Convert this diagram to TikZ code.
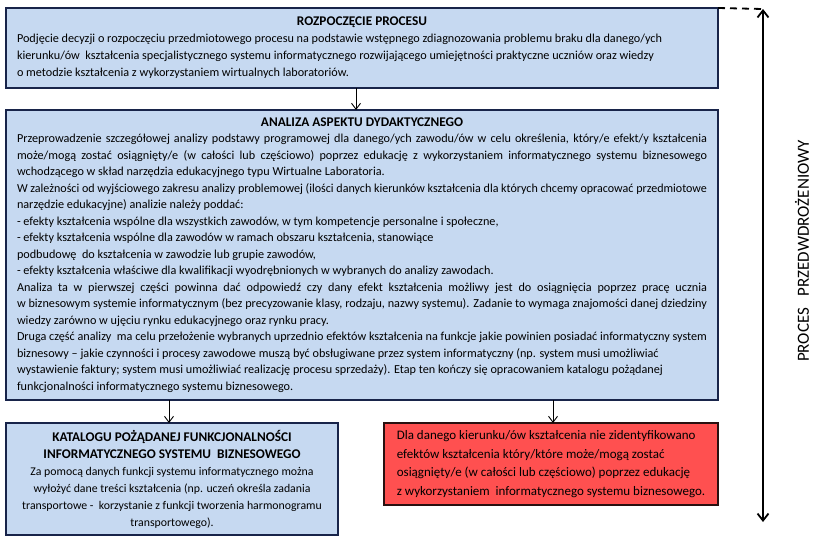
\documentclass[tikz,border=0pt]{standalone}
\usepackage{fontspec}
\setmainfont{Carlito}
\usetikzlibrary{arrows.meta}
\definecolor{boxblue}{HTML}{C6D9F1}
\definecolor{boxedge}{HTML}{18244A}
\definecolor{boxred}{HTML}{FF5050}
\definecolor{rededge}{HTML}{2A1010}
\newcommand\jl[1]{\setbox0\hbox{#1}\ifdim\wd0>\hsize\hbox to\hsize{\resizebox{\hsize}{\height}{#1}}\else\hbox to\hsize{#1}\fi}
\newcommand\rl[1]{\setbox0\hbox{#1}\ifdim\wd0>\hsize\hbox to\hsize{\resizebox{\hsize}{\height}{#1}}\else\hbox{#1}\fi}
\newcommand\cl[1]{\hbox to\hsize{\hfil#1\hfil}}
\newcommand\ttl[1]{\textbf{\fontsize{13.3pt}{17pt}\selectfont #1}}
\begin{document}
\begin{tikzpicture}[x=1pt,y=-1pt,
  bluebox/.style={draw=boxedge, line width=1.2pt, fill=boxblue, anchor=north west, inner sep=0pt, outer sep=0pt},
  redbox/.style={draw=rededge, line width=1.2pt, fill=boxred, anchor=north west, inner sep=0pt, outer sep=0pt},
  flow/.style={draw=black, line width=0.9pt, -{Straight Barb[length=6pt,width=9pt,line width=0.9pt]}},
  bigarrow/.style={draw=black, line width=1.8pt, {Straight Barb[length=7pt,width=11pt,line width=1.8pt]}-{Straight Barb[length=7pt,width=11pt,line width=1.8pt]}},
  dashlink/.style={draw=black, line width=1.8pt, dash pattern=on 7pt off 5pt}
]
\useasboundingbox (0,0) rectangle (820,544);

% ROZPOCZECIE PROCESU
\node[bluebox, minimum width=712pt, minimum height=80pt] (start) at (6,8) {%
\parbox{690pt}{\fontsize{12.2pt}{17pt}\selectfont
\cl{\ttl{ROZPOCZĘCIE PROCESU}}
\rl{Podjęcie decyzji o rozpoczęciu przedmiotowego procesu na podstawie wstępnego zdiagnozowania problemu braku dla danego/ych}
\rl{kierunku/ów\ \ kształcenia specjalistycznego systemu informatycznego rozwijającego umiejętności praktyczne uczniów oraz wiedzy}
\rl{o metodzie kształcenia z wykorzystaniem wirtualnych laboratoriów.}}};

% ANALIZA ASPEKTU DYDAKTYCZNEGO
\node[bluebox, minimum width=712pt, minimum height=290pt] (analiza) at (6,110) {%
\parbox{690pt}{\fontsize{12.2pt}{16.5pt}\selectfont
\cl{\ttl{ANALIZA ASPEKTU DYDAKTYCZNEGO}}
\jl{Przeprowadzenie szczegółowej analizy podstawy programowej dla danego/ych zawodu/ów w celu określenia, który/e efekt/y kształcenia}
\jl{może/mogą zostać osiągnięty/e (w całości lub częściowo) poprzez edukację z wykorzystaniem informatycznego systemu biznesowego}
\rl{wchodzącego w skład narzędzia edukacyjnego typu Wirtualne Laboratoria.}
\jl{W zależności od wyjściowego zakresu analizy problemowej (ilości danych kierunków kształcenia dla których chcemy opracować przedmiotowe}
\rl{narzędzie edukacyjne) analizie należy poddać:}
\rl{- efekty kształcenia wspólne dla wszystkich zawodów, w tym kompetencje personalne i społeczne,}
\rl{- efekty kształcenia wspólne dla zawodów w ramach obszaru kształcenia, stanowiące}
\rl{podbudowę\ \ do kształcenia w zawodzie lub grupie zawodów,}
\rl{- efekty kształcenia właściwe dla kwalifikacji wyodrębnionych w wybranych do analizy zawodach.}
\jl{Analiza ta w pierwszej części powinna dać odpowiedź czy dany efekt kształcenia możliwy jest do osiągnięcia poprzez pracę ucznia}
\jl{w biznesowym systemie informatycznym (bez precyzowanie klasy, rodzaju, nazwy systemu). Zadanie to wymaga znajomości danej dziedziny}
\rl{wiedzy zarówno w ujęciu rynku edukacyjnego oraz rynku pracy.}
\rl{Druga część analizy\ \ ma celu przełożenie wybranych uprzednio efektów kształcenia na funkcje jakie powinien posiadać informatyczny system}
\rl{biznesowy – jakie czynności i procesy zawodowe muszą być obsługiwane przez system informatyczny (np. system musi umożliwiać}
\rl{wystawienie faktury; system musi umożliwiać realizację procesu sprzedaży). Etap ten kończy się opracowaniem katalogu pożądanej}
\rl{funkcjonalności informatycznego systemu biznesowego.}}};

% KATALOG
\node[bluebox, minimum width=332pt, minimum height=112pt] (katalog) at (6,423) {%
\parbox{322pt}{\fontsize{11.8pt}{17pt}\selectfont
\cl{\ttl{KATALOGU POŻĄDANEJ FUNKCJONALNOŚCI}}
\cl{\ttl{INFORMATYCZNEGO SYSTEMU\ \ BIZNESOWEGO}}
\cl{Za pomocą danych funkcji systemu informatycznego można}
\cl{wyłożyć dane treści kształcenia (np. uczeń określa zadania}
\cl{transportowe -\ \ korzystanie z funkcji tworzenia harmonogramu}
\cl{transportowego).}}};

% BRAK
\node[redbox, minimum width=334pt, minimum height=82pt] (brak) at (384,423) {%
\parbox{316pt}{\fontsize{13pt}{18.7pt}\selectfont
\rl{Dla danego kierunku/ów kształcenia nie zidentyfikowano}
\rl{efektów kształcenia który/które może/mogą zostać}
\rl{osiągnięty/e (w całości lub częściowo) poprzez edukację}
\rl{z wykorzystaniem\ \ informatycznego systemu biznesowego.}}};

% connectors
\draw[flow] (356,0 |- start.south) -- (356,0 |- analiza.north);
\draw[flow] (169,0 |- analiza.south) -- (169,0 |- katalog.north);
\draw[flow] (553,0 |- analiza.south) -- (553,0 |- brak.north);

% process arrow
\coordinate (ptop) at (763,9);
\coordinate (pbot) at (763,522);
\draw[dashlink] (start.north east) -- (ptop);
\draw[bigarrow] (ptop) -- (pbot);
\node[rotate=90, font=\fontsize{17pt}{20pt}\selectfont] (proc) at (802,251) {PROCES\ \ \ PRZEDWDROŻENIOWY};
\end{tikzpicture}
\end{document}
